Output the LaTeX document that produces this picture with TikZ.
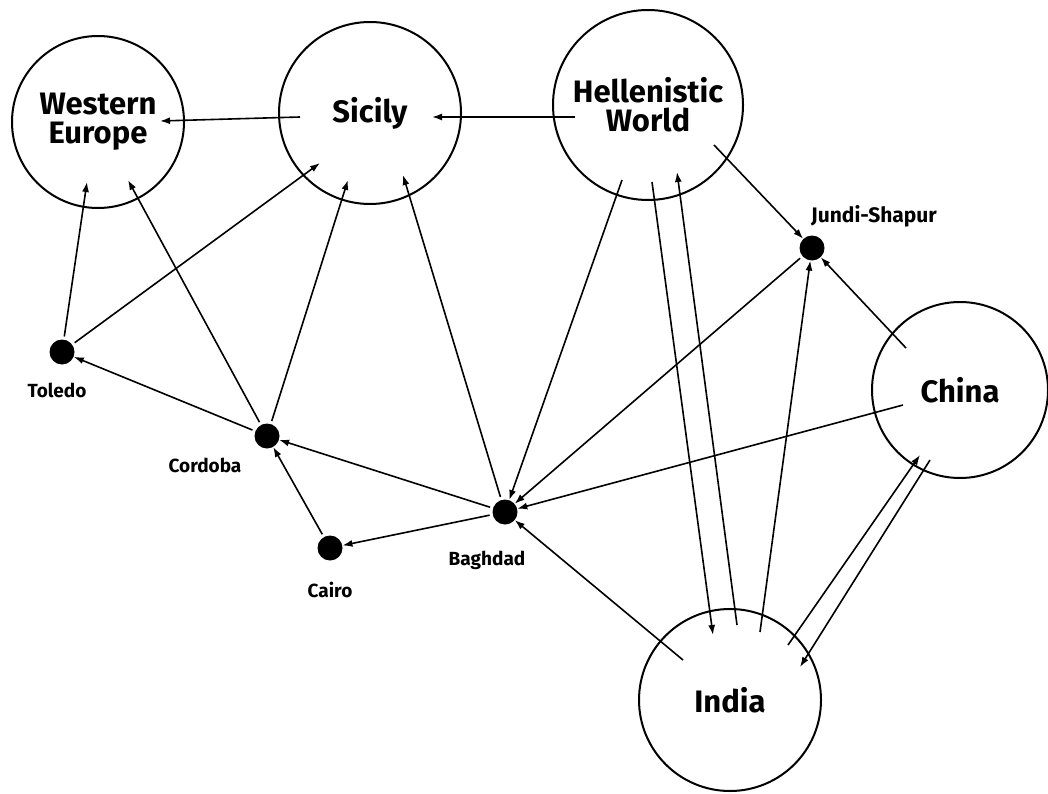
\documentclass[tikz,border=0pt]{standalone}
\usepackage{fontspec}
\setmainfont{Fira Sans}
\usetikzlibrary{arrows.meta,calc}
\begin{document}
\begin{tikzpicture}[x=1pt,y=-1pt,
  big/.style={draw,circle,line width=2pt,minimum size=#1,inner sep=0pt,align=center,font=\fontsize{31}{33}\selectfont\bfseries},
  dot/.style={fill,circle,minimum size=25pt,inner sep=0pt},
  lab/.style={font=\fontsize{19}{21}\selectfont\bfseries},
  arr/.style={line width=1.6pt,-{Latex[length=10pt,width=7pt]}}]
\useasboundingbox[fill=white] (0,0) rectangle (1048,794);
\node[big=172pt] (we) at (98,122) {Western\\[-4pt]Europe};
\node[big=182pt] (si) at (370,113) {Sicily};
\node[big=190pt] (hw) at (648,105) {Hellenistic\\[-4pt]World};
\node[big=176pt] (ch) at (960,390) {China};
\node[big=182pt] (in) at (730,700) {India};
\node[dot] (js) at (812,248) {};
\node[dot] (to) at (62,352) {};
\node[dot] (co) at (267,436) {};
\node[dot] (ca) at (330,548) {};
\node[dot] (ba) at (505,512) {};
\node[lab,font=\fontsize{21}{23}\selectfont\bfseries] (jsl) at (874,216) {Jundi-Shapur};
\node[lab] (tol) at (57,390) {Toledo};
\node[lab] (col) at (205,465) {Cordoba};
\node[lab] (cal) at (330,590) {Cairo};
\node[lab] (bal) at (487,560) {Baghdad};
% arrows
\draw[arr] ($(si)+(-70,4)$) -- ($(we)+(62,-1)$);
\draw[arr] ($(hw)+(-73,12)$) -- ($(si)+(62,4)$);
\draw[arr,shorten <=3pt] (to) -- ($(we)+(-11,60)$);
\draw[arr,shorten <=3pt] (to) -- ($(si)+(-50,50)$);
\draw[arr,shorten <=3pt] (co) -- ($(we)+(30,58)$);
\draw[arr,shorten <=3pt] (co) -- ($(si)+(-22,67)$);
\draw[arr,shorten <=3pt] (ba) -- ($(si)+(33,62)$);
\draw[arr] ($(hw)+(-26,75)$) -- (ba);
\draw[arr] ($(hw)+(4,77)$) -- ($(in)+(-17,-65)$);
\draw[arr] ($(in)+(7,-75)$) -- ($(hw)+(29,67)$);
\draw[arr] ($(hw)+(66,40)$) -- (js);
\draw[arr] ($(in)+(30,-68)$) -- (js);
\draw[arr,shorten <=3pt] (js) -- (ba);
\draw[arr] ($(ch)+(-54,-42)$) -- (js);
\draw[arr] ($(ch)+(-57,15)$) -- (ba);
\draw[arr] ($(in)+(-47,-40)$) -- (ba);
\draw[arr] ($(in)+(58,-55)$) -- ($(ch)+(-40,65)$);
\draw[arr] ($(ch)+(-30,70)$) -- ($(in)+(70,-33)$);
\draw[arr,shorten <=3pt] (ba) -- (co);
\draw[arr,shorten <=3pt] (ba) -- (ca);
\draw[arr,shorten <=3pt] (ca) -- (co);
\draw[arr,shorten <=3pt] (co) -- (to);
\end{tikzpicture}
\end{document}
